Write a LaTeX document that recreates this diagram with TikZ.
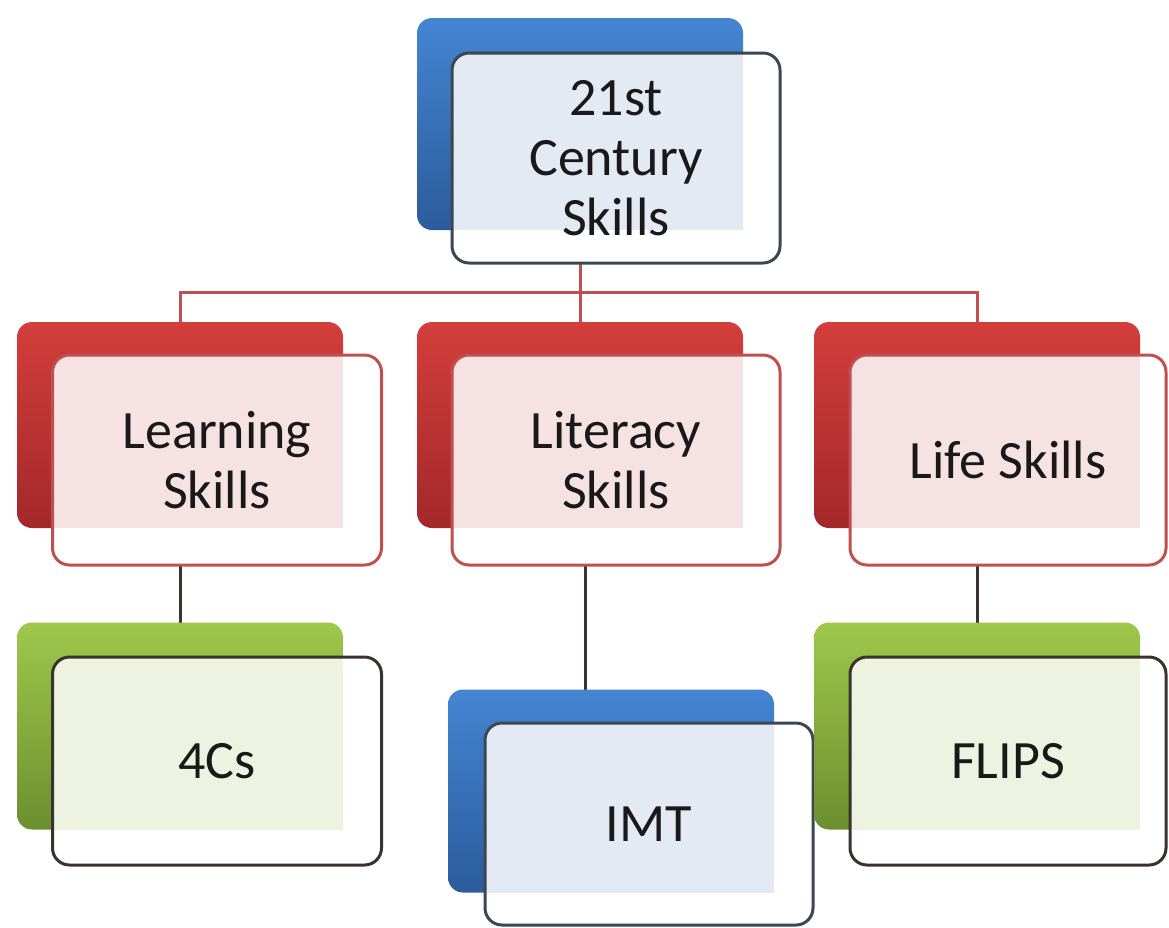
\documentclass[tikz,border=0pt]{standalone}
\usepackage{fontspec}
\setmainfont{Carlito}
\usetikzlibrary{backgrounds}
\definecolor{bluetop}{HTML}{4485D2}
\definecolor{bluebot}{HTML}{2B5C9C}
\definecolor{redtop}{HTML}{D33E3B}
\definecolor{redbot}{HTML}{A3282A}
\definecolor{greentop}{HTML}{9DC84B}
\definecolor{greenbot}{HTML}{6C8F2E}
\definecolor{bluetint}{HTML}{E4EAF4}
\definecolor{redtint}{HTML}{F6E2E2}
\definecolor{greentint}{HTML}{EDF2E1}
\definecolor{slateline}{HTML}{3B4852}
\definecolor{redline}{HTML}{C0504D}
\definecolor{brownline}{HTML}{3A332C}
\begin{document}
\begin{tikzpicture}[x=1pt,y=-1pt,
  backbox/.style={draw=none, rounded corners=15pt, inner sep=0pt, minimum width=326pt},
  bluebk/.style={backbox, top color=bluetop, bottom color=bluebot},
  redbk/.style={backbox, top color=redtop, bottom color=redbot},
  greenbk/.style={backbox, top color=greentop, bottom color=greenbot},
  frontbox/.style={line width=3pt, rounded corners=17pt, fill=white, inner sep=0pt,
    align=center, text=black!90, font=\fontsize{54}{60}\selectfont},
  tintin/.style 2 args={path picture={\fill[#2, sharp corners] (#1.north west) rectangle (#1.south east);}},
  redconn/.style={draw=redline, line width=3pt},
  darkconn/.style={draw=brownline, line width=3pt}]
\useasboundingbox (0,0) rectangle (1169,927);
% level 1
\node[bluebk, minimum height=212pt] (topb) at (580,124) {};
\node[frontbox, draw=slateline, minimum width=328pt, minimum height=210pt, tintin={topb}{bluetint}] (top) at (616,158) {21st\\Century\\Skills};
% level 2
\node[redbk, minimum height=206pt] (learnb) at (180,425) {};
\node[frontbox, draw=redline, minimum width=329pt, minimum height=210pt, tintin={learnb}{redtint}] (learn) at (217,460) {Learning\\Skills};
\node[redbk, minimum height=206pt] (litb) at (580,425) {};
\node[frontbox, draw=redline, minimum width=328pt, minimum height=210pt, tintin={litb}{redtint}] (lit) at (616,460) {Literacy\\Skills};
\node[redbk, minimum height=206pt] (lifeb) at (977,425) {};
\node[frontbox, draw=redline, minimum width=316pt, minimum height=210pt, tintin={lifeb}{redtint}] (life) at (1008,460) {Life Skills};
% level 3
\node[greenbk, minimum height=207pt] (fourcb) at (180,726) {};
\node[frontbox, draw=brownline, minimum width=329pt, minimum height=208pt, tintin={fourcb}{greentint}] (fourc) at (217,761) {4Cs};
\node[bluebk, minimum height=203pt] (imtb) at (611,791) {};
\node[frontbox, draw=slateline, minimum width=328pt, minimum height=202pt, tintin={imtb}{bluetint}] (imt) at (649,824) {IMT};
\node[greenbk, minimum height=207pt] (flipsb) at (977,726) {};
\node[frontbox, draw=brownline, minimum width=316pt, minimum height=208pt, tintin={flipsb}{greentint}] (flips) at (1008,761) {FLIPS};
% connectors
\coordinate (bus) at (580,292);
\begin{scope}[on background layer]
\draw[redconn] (topb.center) -- (bus);
\draw[redconn] (learnb.center) |- (bus) -| (lifeb.center);
\draw[redconn] (bus) -- (litb.center);
\draw[darkconn] (learnb.center) -- (fourcb.center);
\draw[darkconn] ([xshift=5pt]litb.center) -- ([xshift=5pt]litb.center |- imtb.center);
\draw[darkconn] (lifeb.center) -- (flipsb.center);
\end{scope}
\end{tikzpicture}
\end{document}
